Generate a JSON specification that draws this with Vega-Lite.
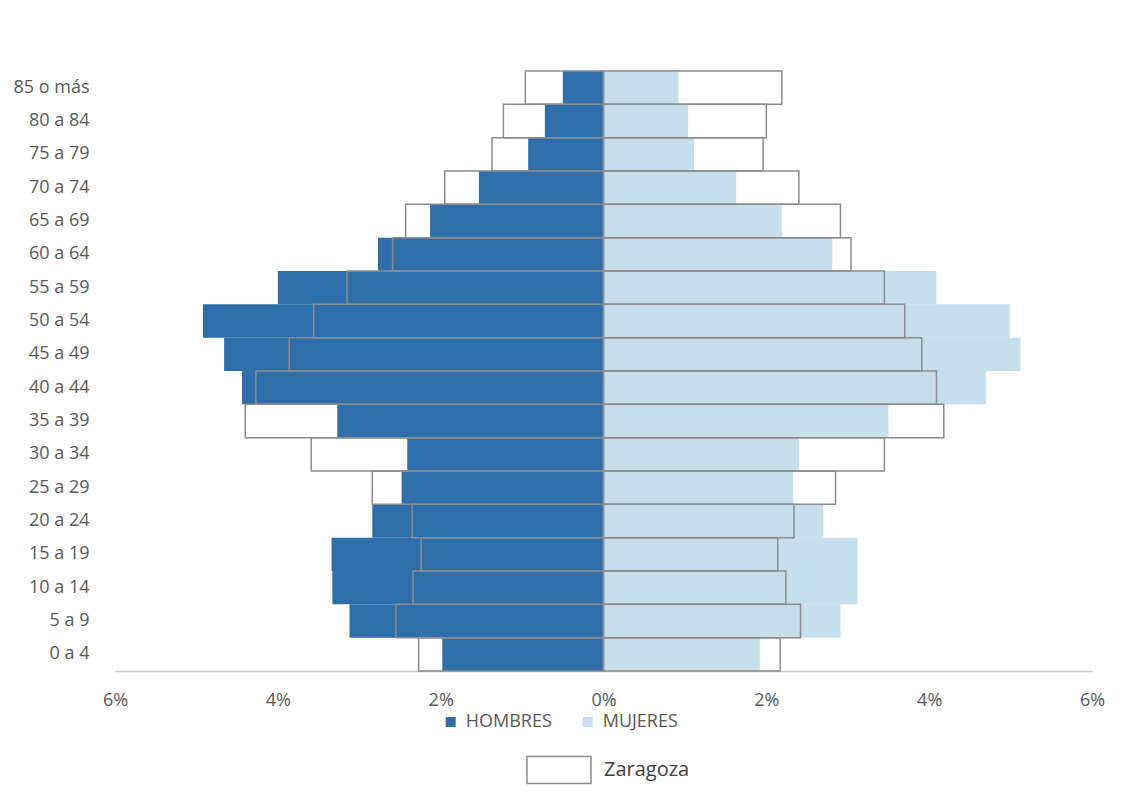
{
  "$schema": "https://vega.github.io/schema/vega-lite/v6.json",
  "autosize": {"type": "none"},
  "width": 977,
  "height": 600,
  "padding": {"left": 115, "top": 71, "right": 38, "bottom": 128},
  "background": "white",
  "config": {
    "view": {"stroke": null},
    "font": "Open Sans"
  },
  "data": {
    "values": [
      {"edad": "85 o más", "sexo": "HOMBRES", "valor": -0.50, "zaragoza": -0.96, "ambito": "Zaragoza"},
      {"edad": "80 a 84", "sexo": "HOMBRES", "valor": -0.72, "zaragoza": -1.23, "ambito": "Zaragoza"},
      {"edad": "75 a 79", "sexo": "HOMBRES", "valor": -0.925, "zaragoza": -1.37, "ambito": "Zaragoza"},
      {"edad": "70 a 74", "sexo": "HOMBRES", "valor": -1.53, "zaragoza": -1.95, "ambito": "Zaragoza"},
      {"edad": "65 a 69", "sexo": "HOMBRES", "valor": -2.13, "zaragoza": -2.43, "ambito": "Zaragoza"},
      {"edad": "60 a 64", "sexo": "HOMBRES", "valor": -2.77, "zaragoza": -2.59, "ambito": "Zaragoza"},
      {"edad": "55 a 59", "sexo": "HOMBRES", "valor": -4.00, "zaragoza": -3.15, "ambito": "Zaragoza"},
      {"edad": "50 a 54", "sexo": "HOMBRES", "valor": -4.92, "zaragoza": -3.56, "ambito": "Zaragoza"},
      {"edad": "45 a 49", "sexo": "HOMBRES", "valor": -4.66, "zaragoza": -3.86, "ambito": "Zaragoza"},
      {"edad": "40 a 44", "sexo": "HOMBRES", "valor": -4.44, "zaragoza": -4.27, "ambito": "Zaragoza"},
      {"edad": "35 a 39", "sexo": "HOMBRES", "valor": -3.27, "zaragoza": -4.40, "ambito": "Zaragoza"},
      {"edad": "30 a 34", "sexo": "HOMBRES", "valor": -2.41, "zaragoza": -3.59, "ambito": "Zaragoza"},
      {"edad": "25 a 29", "sexo": "HOMBRES", "valor": -2.48, "zaragoza": -2.84, "ambito": "Zaragoza"},
      {"edad": "20 a 24", "sexo": "HOMBRES", "valor": -2.84, "zaragoza": -2.35, "ambito": "Zaragoza"},
      {"edad": "15 a 19", "sexo": "HOMBRES", "valor": -3.34, "zaragoza": -2.24, "ambito": "Zaragoza"},
      {"edad": "10 a 14", "sexo": "HOMBRES", "valor": -3.33, "zaragoza": -2.34, "ambito": "Zaragoza"},
      {"edad": "5 a 9", "sexo": "HOMBRES", "valor": -3.12, "zaragoza": -2.55, "ambito": "Zaragoza"},
      {"edad": "0 a 4", "sexo": "HOMBRES", "valor": -1.98, "zaragoza": -2.27, "ambito": "Zaragoza"},
      {"edad": "85 o más", "sexo": "MUJERES", "valor": 0.92, "zaragoza": 2.19, "ambito": "Zaragoza"},
      {"edad": "80 a 84", "sexo": "MUJERES", "valor": 1.04, "zaragoza": 2.00, "ambito": "Zaragoza"},
      {"edad": "75 a 79", "sexo": "MUJERES", "valor": 1.11, "zaragoza": 1.96, "ambito": "Zaragoza"},
      {"edad": "70 a 74", "sexo": "MUJERES", "valor": 1.63, "zaragoza": 2.40, "ambito": "Zaragoza"},
      {"edad": "65 a 69", "sexo": "MUJERES", "valor": 2.19, "zaragoza": 2.91, "ambito": "Zaragoza"},
      {"edad": "60 a 64", "sexo": "MUJERES", "valor": 2.81, "zaragoza": 3.04, "ambito": "Zaragoza"},
      {"edad": "55 a 59", "sexo": "MUJERES", "valor": 4.09, "zaragoza": 3.45, "ambito": "Zaragoza"},
      {"edad": "50 a 54", "sexo": "MUJERES", "valor": 4.99, "zaragoza": 3.70, "ambito": "Zaragoza"},
      {"edad": "45 a 49", "sexo": "MUJERES", "valor": 5.12, "zaragoza": 3.91, "ambito": "Zaragoza"},
      {"edad": "40 a 44", "sexo": "MUJERES", "valor": 4.70, "zaragoza": 4.09, "ambito": "Zaragoza"},
      {"edad": "35 a 39", "sexo": "MUJERES", "valor": 3.50, "zaragoza": 4.18, "ambito": "Zaragoza"},
      {"edad": "30 a 34", "sexo": "MUJERES", "valor": 2.40, "zaragoza": 3.45, "ambito": "Zaragoza"},
      {"edad": "25 a 29", "sexo": "MUJERES", "valor": 2.33, "zaragoza": 2.85, "ambito": "Zaragoza"},
      {"edad": "20 a 24", "sexo": "MUJERES", "valor": 2.70, "zaragoza": 2.34, "ambito": "Zaragoza"},
      {"edad": "15 a 19", "sexo": "MUJERES", "valor": 3.12, "zaragoza": 2.14, "ambito": "Zaragoza"},
      {"edad": "10 a 14", "sexo": "MUJERES", "valor": 3.12, "zaragoza": 2.24, "ambito": "Zaragoza"},
      {"edad": "5 a 9", "sexo": "MUJERES", "valor": 2.91, "zaragoza": 2.42, "ambito": "Zaragoza"},
      {"edad": "0 a 4", "sexo": "MUJERES", "valor": 1.92, "zaragoza": 2.17, "ambito": "Zaragoza"}
    ]
  },
  "encoding": {
    "y": {
      "field": "edad",
      "type": "nominal",
      "sort": ["85 o más", "80 a 84", "75 a 79", "70 a 74", "65 a 69", "60 a 64", "55 a 59", "50 a 54", "45 a 49", "40 a 44", "35 a 39", "30 a 34", "25 a 29", "20 a 24", "15 a 19", "10 a 14", "5 a 9", "0 a 4"],
      "scale": {"paddingInner": 0, "paddingOuter": 0},
      "axis": {
        "title": null,
        "domain": false,
        "ticks": false,
        "tickSize": 0,
        "labelPadding": 26,
        "labelFont": "Open Sans",
        "labelFontSize": 18,
        "labelColor": "#595959"
      }
    }
  },
  "layer": [
    {
      "mark": {"type": "bar", "strokeWidth": 0},
      "encoding": {
        "x": {
          "field": "valor",
          "type": "quantitative",
          "scale": {"domain": [-6, 6], "nice": false, "zero": false},
          "axis": {
            "title": null,
            "values": [-6, -4, -2, 0, 2, 4, 6],
            "labelExpr": "abs(datum.value) + '%'",
            "labelFlush": false,
            "grid": false,
            "ticks": false,
            "tickSize": 0,
            "labelPadding": 20,
            "domainColor": "#C8C8C8",
            "domainWidth": 1.5,
            "labelFont": "Open Sans",
            "labelFontSize": 18,
            "labelColor": "#595959"
          }
        },
        "color": {
          "field": "sexo",
          "type": "nominal",
          "scale": {"domain": ["HOMBRES", "MUJERES"], "range": ["#2E6EAB", "#C5DFEC"]},
          "legend": {
            "title": null,
            "orient": "none",
            "direction": "horizontal",
            "legendX": 326.7,
            "legendY": 642,
            "padding": 0,
            "symbolType": "square",
            "symbolSize": 100,
            "symbolStrokeWidth": 0,
            "labelOffset": 6,
            "columnPadding": 26,
            "labelFont": "Open Sans",
            "labelFontSize": 18,
            "labelColor": "#595959"
          }
        }
      }
    },
    {
      "mark": {"type": "bar", "filled": false, "strokeWidth": 1.5},
      "encoding": {
        "x": {"field": "zaragoza", "type": "quantitative"},
        "stroke": {
          "field": "ambito",
          "type": "nominal",
          "scale": {"domain": ["Zaragoza"], "range": ["#8C8C8C"]},
          "legend": {
            "title": null,
            "orient": "none",
            "legendX": 411,
            "legendY": 666,
            "padding": 0,
            "symbolType": "M-1,-0.42H1V0.42H-1Z",
            "symbolSize": 4096,
            "symbolStrokeWidth": 1.5,
            "symbolFillColor": "white",
            "labelOffset": 12,
            "labelFont": "Open Sans",
            "labelFontSize": 20,
            "labelColor": "#404040"
          }
        }
      }
    }
  ]
}
